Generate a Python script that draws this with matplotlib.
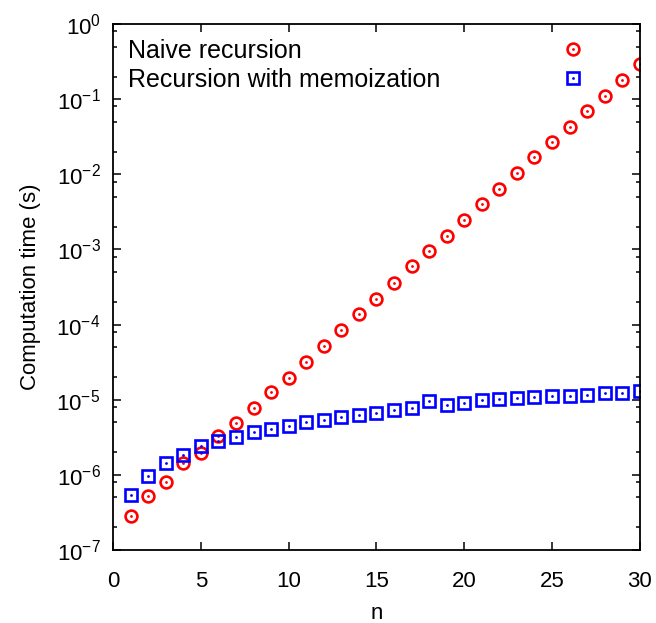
import matplotlib
matplotlib.use("Agg")
import matplotlib.pyplot as plt
import numpy as np
from matplotlib.ticker import LogLocator, NullFormatter

plt.rcParams['font.family'] = ['Liberation Sans', 'DejaVu Sans']
plt.rcParams['font.size'] = 16
plt.rcParams['mathtext.fontset'] = 'custom'
plt.rcParams['mathtext.rm'] = 'Liberation Sans'
plt.rcParams['mathtext.default'] = 'regular'

n = np.arange(1, 31)

# naive recursion timings (s)
naive = [2.84e-7, 5.2e-7, 8.0e-7, 1.44e-6, 1.95e-6, 3.3e-6, 4.9e-6, 7.8e-6,
         1.27e-5, 1.95e-5, 3.2e-5, 5.2e-5, 8.5e-5, 1.39e-4, 2.2e-4, 3.6e-4,
         6.0e-4, 9.6e-4, 1.5e-3, 2.5e-3, 4.0e-3, 6.4e-3, 1.05e-2, 1.7e-2,
         2.7e-2, 4.3e-2, 7.0e-2, 0.111, 0.181, 0.296]

# memoized recursion timings (s)
memo = [5.4e-7, 9.7e-7, 1.44e-6, 1.84e-6, 2.45e-6, 2.8e-6, 3.2e-6, 3.7e-6,
        4.1e-6, 4.5e-6, 5.0e-6, 5.4e-6, 5.8e-6, 6.2e-6, 6.7e-6, 7.2e-6,
        7.8e-6, 9.7e-6, 8.4e-6, 9.0e-6, 1.0e-5, 1.02e-5, 1.04e-5, 1.09e-5,
        1.11e-5, 1.11e-5, 1.16e-5, 1.22e-5, 1.23e-5, 1.30e-5]

labels = ["Naive recursion", "Recursion with memoization"]

DPI = 100
fig = plt.figure(figsize=(6.56, 6.23), dpi=DPI)
ax = fig.add_axes([0.1723, 0.1172, 0.803, 0.8443])

red = '#ff0000'
blue = '#0000ff'

c1, = ax.plot(n, naive, linestyle='none', marker='o', markersize=8.5,
              markerfacecolor='none', markeredgecolor=red, markeredgewidth=1.9)
d1, = ax.plot(n, naive, linestyle='none', marker='o', markersize=2,
              color=red, markeredgewidth=0)
s2, = ax.plot(n, memo, linestyle='none', marker='s', markersize=8.3,
              markerfacecolor='none', markeredgecolor=blue, markeredgewidth=1.9)
d2, = ax.plot(n, memo, linestyle='none', marker='o', markersize=2,
              color=blue, markeredgewidth=0)

ax.set_yscale('log')
ax.set_xlim(0, 30)
ax.set_ylim(1e-7, 1)
ax.set_xticks(np.arange(0, 31, 5))
ax.yaxis.set_major_locator(LogLocator(base=10, numticks=20))
ax.yaxis.set_minor_locator(LogLocator(base=10, subs=[2, 5, 8], numticks=20))
ax.yaxis.set_minor_formatter(NullFormatter())

ax.tick_params(which='both', direction='in', top=True, right=True, labelsize=16)
ax.tick_params(which='major', length=6, width=1.1)
ax.tick_params(which='minor', length=3, width=1.1)
ax.tick_params(axis='x', which='major', pad=15)
ax.tick_params(axis='y', which='major', pad=9)
for sp in ax.spines.values():
    sp.set_linewidth(1.3)

ax.set_xlabel("n", fontsize=16, labelpad=8)
ax.set_ylabel("Computation time (s)", fontsize=16, labelpad=11)

leg = ax.legend([(c1, d1), (s2, d2)], labels, loc='upper left',
                bbox_to_anchor=(0.0, 1.0), frameon=False, markerfirst=False,
                handlelength=1.0, handletextpad=1.0, labelspacing=0.2,
                borderaxespad=0.2, fontsize=18)

# gnuplot-style key: text left-aligned, symbols in a column at n ~ 26.2
fig.canvas.draw()
r = fig.canvas.get_renderer()
texts = leg.get_texts()
ext = [t.get_window_extent(r) for t in texts]
x0 = min(e.x0 for e in ext)
target = ax.transData.transform((26.2, 1))[0]
hl_px = 1.0 * 18 * DPI / 72
col = leg._legend_handle_box.get_children()[0]
for box, e in zip(col.get_children(), ext):
    sep_px = target - hl_px / 2 - (x0 + e.width)
    box.sep = sep_px * 72 / DPI

fig.savefig("out.png", dpi=DPI)
